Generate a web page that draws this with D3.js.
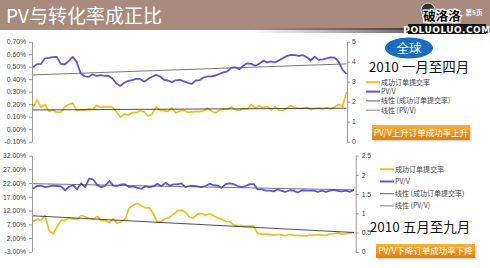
<!DOCTYPE html>
<html>
<head>
<meta charset="utf-8">
<script src="https://cdn.jsdelivr.net/npm/d3@7"></script>
<style>
  body { margin: 0; background: #fff; }
  svg { display: block; font-family: "Noto Sans CJK SC", "Liberation Sans", sans-serif; }
</style>
</head>
<body>
<div id="chart"></div>
<script>
// Jan - Apr 2010 (one sample every ~1.5 days)
const topRate = [0.174, 0.234, 0.174, 0.198, 0.142, 0.156, 0.134, 0.136, 0.178, 0.198,
  0.210, 0.149, 0.156, 0.150, 0.161, 0.158, 0.191, 0.174, 0.178, 0.178,
  0.176, 0.140, 0.098, 0.120, 0.114, 0.132, 0.132, 0.148, 0.138, 0.106,
  0.118, 0.178, 0.150, 0.148, 0.142, 0.170, 0.130, 0.146, 0.150, 0.134,
  0.138, 0.141, 0.141, 0.146, 0.170, 0.146, 0.130, 0.153, 0.162, 0.158,
  0.178, 0.156, 0.150, 0.165, 0.162, 0.198, 0.168, 0.186, 0.174, 0.182,
  0.154, 0.180, 0.153, 0.150, 0.170, 0.188, 0.174, 0.166, 0.167, 0.175,
  0.157, 0.165, 0.166, 0.162, 0.168, 0.161, 0.178, 0.198, 0.182, 0.298];
const topPV = [3.72, 3.88, 3.89, 4.17, 4.19, 4.23, 4.24, 3.89, 3.86, 4.04,
  4.24, 3.99, 3.42, 3.27, 3.24, 3.36, 3.29, 3.33, 3.29, 3.30,
  3.16, 2.91, 2.79, 2.95, 3.04, 3.08, 3.14, 3.14, 3.00, 3.14,
  3.25, 3.34, 3.26, 3.10, 3.06, 2.98, 3.07, 3.09, 3.02, 2.94,
  2.89, 3.06, 3.08, 3.21, 3.27, 3.27, 3.31, 3.39, 3.47, 3.52,
  3.70, 3.72, 3.62, 3.81, 3.92, 3.89, 3.80, 3.90, 4.05, 3.97,
  4.02, 3.96, 4.07, 4.18, 4.29, 4.34, 4.33, 4.29, 4.33, 4.22,
  4.06, 4.25, 4.09, 4.12, 4.17, 4.22, 4.20, 4.00, 3.59, 3.39];
// linear trend lines, start and end values
const topRateTrend = [0.154, 0.168];
const topPVTrend = [3.34, 3.89];

// May - Sep 2010
const bottomRate = [7.91, 8.82, 8.45, 10.27, 4.64, 3.55, 6.09, 8.45, 8.45, 9.18,
  9.00, 8.82, 10.27, 9.73, 9.11, 8.82, 9.91, 8.34, 8.34, 7.62,
  9.00, 7.36, 7.91, 9.00, 13.00, 13.90, 14.63, 13.72, 13.00, 13.00,
  10.82, 7.73, 8.09, 9.00, 9.54, 10.63, 11.91, 12.16, 11.36, 9.54,
  9.36, 10.71, 11.00, 10.27, 10.82, 10.09, 9.36, 8.82, 8.09, 7.91,
  6.82, 6.56, 6.56, 6.27, 6.45, 6.27, 3.73, 3.44, 3.44, 3.37,
  3.08, 3.29, 3.08, 2.89, 3.29, 2.97, 2.97, 2.75, 2.71, 3.11,
  3.08, 3.22, 3.08, 2.97, 3.55, 3.48, 3.91, 3.33, 3.62, 3.80, 3.98];
const bottomPV = [1.64, 1.71, 1.72, 1.68, 1.70, 1.72, 1.71, 1.70, 1.60, 1.69,
  1.73, 1.63, 1.78, 1.68, 1.90, 1.88, 1.74, 1.68, 1.72, 1.84,
  1.72, 1.71, 1.75, 1.75, 1.68, 1.70, 1.66, 1.64, 1.70, 1.68,
  1.70, 1.77, 1.70, 1.79, 1.72, 1.75, 1.75, 1.78, 1.68, 1.71,
  1.71, 1.70, 1.68, 1.71, 1.77, 1.73, 1.72, 1.66, 1.76, 1.78,
  1.76, 1.71, 1.68, 1.71, 1.76, 1.76, 1.62, 1.62, 1.59, 1.59,
  1.57, 1.62, 1.58, 1.56, 1.60, 1.59, 1.54, 1.60, 1.59, 1.59,
  1.59, 1.56, 1.59, 1.56, 1.59, 1.61, 1.58, 1.57, 1.59, 1.56, 1.61];
const bottomRateTrend = [10.09, 4.02];
const bottomPVTrend = [1.77, 1.61];

const topRateTicks = [-0.1, 0, 0.1, 0.2, 0.3, 0.4, 0.5, 0.6, 0.7];
const topPVTicks = [0, 1, 2, 3, 4, 5];
const bottomRateTicks = [-3, 2, 7, 12, 17, 22, 27, 32];
const bottomPVTicks = [0, 0.5, 1, 1.5, 2, 2.5];

const legendNames = ["成功订单提交率", "PV/V", "线性 (成功订单提交率)", "线性 (PV/V)"];

const width = 490, height = 268;
const yellow = "#f1bd1f", blue = "#5b57d6";

const svg = d3.select("#chart").append("svg")
  .attr("width", width).attr("height", height);

const defs = svg.append("defs");
const darkGrad = defs.append("linearGradient").attr("id", "darkband");
darkGrad.append("stop").attr("offset", "0%").attr("stop-color", "#3a2a22").attr("stop-opacity", 0);
darkGrad.append("stop").attr("offset", "100%").attr("stop-color", "#1a1410").attr("stop-opacity", 1);
const btnGrad = defs.append("linearGradient").attr("id", "btn")
  .attr("x1", 0).attr("y1", 0).attr("x2", 0).attr("y2", 1);
btnGrad.append("stop").attr("offset", "0%").attr("stop-color", "#f6b23a");
btnGrad.append("stop").attr("offset", "100%").attr("stop-color", "#e07f0c");

// header bar
svg.append("rect").attr("width", width).attr("height", 30).attr("fill", "#a98b7d");
svg.append("rect").attr("x", 250).attr("y", 28).attr("width", 240).attr("height", 5)
  .attr("fill", "url(#darkband)");
svg.append("text").attr("x", 6).attr("y", 23)
  .attr("fill", "#fff").style("font-size", "19px").text("PV与转化率成正比");

// logo in the corner
svg.append("rect").attr("x", 408).attr("y", 24).attr("width", 78).attr("height", 10).attr("fill", "#111");
svg.append("circle").attr("cx", 428).attr("cy", 10).attr("r", 7).attr("fill", "#333").attr("stroke", "#ddd");
svg.append("text").attr("x", 442).attr("y", 21).attr("text-anchor", "middle")
  .attr("fill", "#000").attr("stroke", "#fff").attr("stroke-width", 2.5).attr("paint-order", "stroke")
  .style("font-size", "12.5px").style("font-weight", "bold").text("破洛洛");
svg.append("text").attr("x", 447).attr("y", 32.5).attr("text-anchor", "middle")
  .attr("fill", "#fff").style("font-size", "9px").style("font-weight", "bold")
  .style("font-family", "DejaVu Sans").style("letter-spacing", "0.5px").text("POLUOLUO.COM");
svg.append("text").attr("x", 474).attr("y", 15).attr("text-anchor", "middle")
  .attr("fill", "#fff").style("font-size", "6.5px").style("font-weight", "bold").text("第5页");

function drawPanel(o) {
  const x = d3.scaleLinear().domain([0, o.rate.length - 1]).range([o.x0, o.x1]);
  const yL = d3.scaleLinear().domain(d3.extent(o.rateTicks)).range([o.bottom, o.top]);
  const yR = d3.scaleLinear().domain(d3.extent(o.pvTicks)).range([o.bottom, o.top]);

  const g = svg.append("g");

  const left = g.append("g").attr("transform", `translate(${o.axisL},0)`)
    .call(d3.axisLeft(yL).tickValues(o.rateTicks).tickSize(3).tickSizeOuter(0)
      .tickFormat((d) => d.toFixed(2) + "%"));
  const right = g.append("g").attr("transform", `translate(${o.axisR},0)`)
    .call(d3.axisRight(yR).tickValues(o.pvTicks).tickSize(3).tickSizeOuter(0)
      .tickFormat((d) => String(d)));
  [left, right].forEach((a) => {
    a.select(".domain").attr("stroke", "#999");
    a.selectAll(".tick line").attr("stroke", "#999");
    a.selectAll("text").attr("fill", "#444").style("font-size", "6.8px")
      .style("font-family", "Liberation Sans, sans-serif");
  });
  right.selectAll("text").attr("x", o.rightLabelDx);

  const lineL = d3.line().x((d, i) => x(i)).y((d) => yL(d));
  const lineR = d3.line().x((d, i) => x(i)).y((d) => yR(d));

  g.append("path").datum(o.pv).attr("d", lineR)
    .attr("fill", "none").attr("stroke", blue).attr("stroke-width", 1.8).attr("stroke-linejoin", "round");
  g.append("path").datum(o.rate).attr("d", lineL)
    .attr("fill", "none").attr("stroke", yellow).attr("stroke-width", 1.7).attr("stroke-linejoin", "round");

  const last = o.rate.length - 1;
  g.append("line").attr("x1", x(0)).attr("x2", x(last))
    .attr("y1", yL(o.rateTrend[0])).attr("y2", yL(o.rateTrend[1]))
    .attr("stroke", "#222").attr("stroke-width", 0.8);
  g.append("line").attr("x1", x(0)).attr("x2", x(last))
    .attr("y1", yR(o.pvTrend[0])).attr("y2", yR(o.pvTrend[1]))
    .attr("stroke", "#555").attr("stroke-width", 0.8);

  // legend
  const lg = svg.append("g").attr("transform", `translate(${o.legX},${o.legY})`);
  const styles = [
    { c: yellow, w: 2 }, { c: blue, w: 2 }, { c: "#333", w: 0.8 }, { c: "#666", w: 0.8 }
  ];
  legendNames.forEach((name, i) => {
    const row = lg.append("g").attr("transform", `translate(0,${i * o.legStep})`);
    row.append("line").attr("x1", 0).attr("x2", 14).attr("stroke", styles[i].c).attr("stroke-width", styles[i].w);
    row.append("text").attr("x", 15).attr("y", 2.4).attr("fill", "#444")
      .style("font-size", "7px").text(name);
  });
}

drawPanel({
  rate: topRate, pv: topPV, rateTicks: topRateTicks, pvTicks: topPVTicks,
  rateTrend: topRateTrend, pvTrend: topPVTrend,
  x0: 33, x1: 346.5, top: 41.7, bottom: 141.7, axisL: 32, axisR: 347, rightLabelDx: 5,
  legX: 366, legY: 82.3, legStep: 9.3
});
drawPanel({
  rate: bottomRate, pv: bottomPV, rateTicks: bottomRateTicks, pvTicks: bottomPVTicks,
  rateTrend: bottomRateTrend, pvTrend: bottomPVTrend,
  x0: 33, x1: 354, top: 155.6, bottom: 251.8, axisL: 32, axisR: 355.7, rightLabelDx: 6,
  legX: 380, legY: 169.3, legStep: 12.2
});

// top annotations
svg.append("ellipse").attr("cx", 409).attr("cy", 48).attr("rx", 24).attr("ry", 10.5).attr("fill", "#1a6cc0");
svg.append("text").attr("x", 409).attr("y", 52.5).attr("text-anchor", "middle")
  .attr("fill", "#fff").style("font-size", "12.5px").text("全球");
svg.append("text").attr("x", 419).attr("y", 72).attr("text-anchor", "middle")
  .attr("fill", "#111").style("font-size", "13.5px").text("2010 一月至四月");
svg.append("text").attr("x", 420).attr("y", 232).attr("text-anchor", "middle")
  .attr("fill", "#111").style("font-size", "13.5px").text("2010 五月至九月");

function button(x, y, w, h, label) {
  svg.append("rect").attr("x", x + 1.5).attr("y", y + 1.5).attr("width", w).attr("height", h)
    .attr("fill", "#c9c3bc").attr("opacity", 0.7);
  svg.append("rect").attr("x", x).attr("y", y).attr("width", w).attr("height", h)
    .attr("fill", "url(#btn)");
  svg.append("text").attr("x", x + w / 2).attr("y", y + h / 2 + 3).attr("text-anchor", "middle")
    .attr("fill", "#fff").style("font-size", "8.5px").text(label);
}
button(372, 125, 98, 15, "PV/V上升订单成功率上升");
button(376, 244, 99, 14, "PV/V下降订单成功率下降");
</script>
</body>
</html>
